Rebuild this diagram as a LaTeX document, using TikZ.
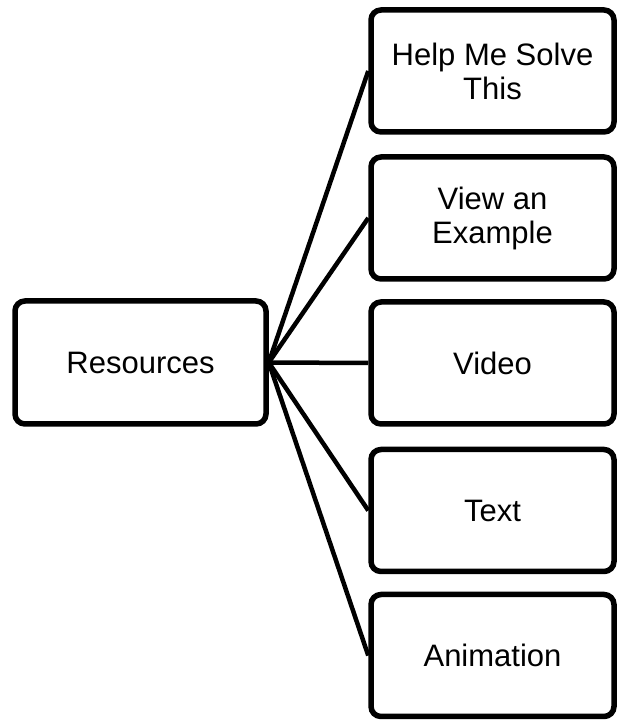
\documentclass[tikz,border=0pt]{standalone}
\usepackage{fontspec}
\setmainfont{Liberation Sans}
\begin{document}
\begin{tikzpicture}[x=1pt,y=1pt,
  box/.style={draw=black, fill=white, rectangle, rounded corners=10pt,
    line width=5.5pt, align=center, inner sep=0pt,
    font=\fontsize{31}{34}\selectfont},
  rootbox/.style={box, minimum width=251pt, minimum height=123pt},
  leafbox/.style={box, minimum width=243pt, minimum height=122pt},
  link/.style={draw=black, line width=4.5pt}]
  \useasboundingbox (0,0) rectangle (618,721);

  % root node on the left
  \node[rootbox] (res) at (140.5,358.5) {Resources};

  % column of resource types on the right
  \node[leafbox] (help) at (492.5,650)   {Help Me Solve\\This};
  \node[leafbox] (ex)   at (492.5,503)   {View an\\Example};
  \node[leafbox] (vid)  at (492.5,358)   {Video};
  \node[leafbox] (txt)  at (492.5,210.5) {Text};
  \node[leafbox] (anim) at (492.5,65.5)  {Animation};

  % fan of connectors from the root
  \foreach \t in {help,ex,vid,txt,anim}
    \draw[link] (res.east) -- (\t.west);
\end{tikzpicture}
\end{document}
